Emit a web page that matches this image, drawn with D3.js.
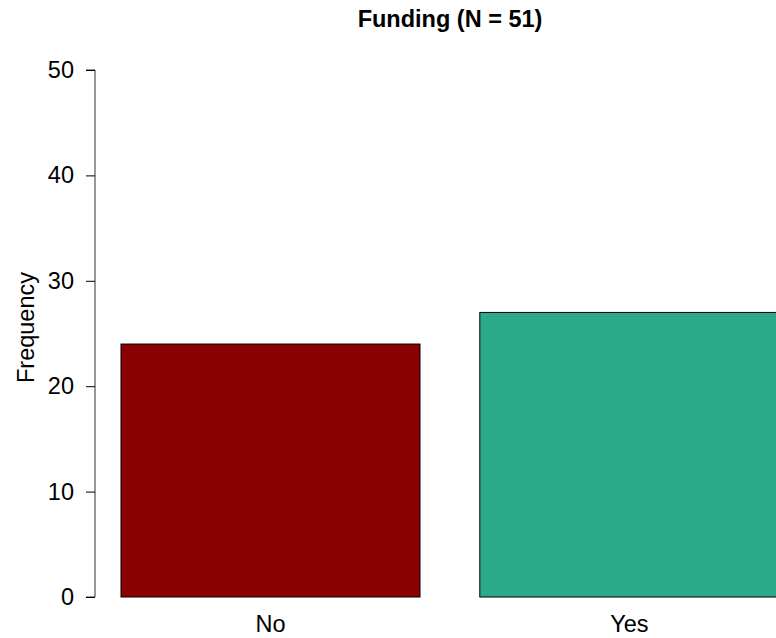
<!DOCTYPE html>
<html>
<head>
<meta charset="utf-8">
<script src="https://cdn.jsdelivr.net/npm/d3@7"></script>
<style>
  html, body { margin: 0; padding: 0; background: #fff; }
  svg { display: block; font-family: "Liberation Sans", Arial, sans-serif; }
</style>
</head>
<body>
<svg id="chart" width="776" height="638"></svg>
<script>
// Funding responses
const categories = ["No", "Yes"];
const counts = [24, 27];
const barColors = ["#8B0000", "#2AAA8A"];
const yTicks = [0, 10, 20, 30, 40, 50];
const title = "Funding (N = 51)";

const svg = d3.select("#chart");

// barplot-style layout: bar width 1, space 0.2 between bars
const barWidth = 1, space = 0.2;
const x = d3.scaleLinear().domain([0, 1]).range([61.2, 360.2]);
const y = d3.scaleLinear().domain([0, 50]).range([597, 70]);

const bars = categories.map((c, i) => {
  const left = space + i * (barWidth + space);
  return { cat: c, value: counts[i], color: barColors[i], left, right: left + barWidth };
});

svg.selectAll("rect.bar")
  .data(bars)
  .join("rect")
  .attr("class", "bar")
  .attr("x", d => x(d.left))
  .attr("width", d => x(d.right) - x(d.left))
  .attr("y", d => y(d.value))
  .attr("height", d => y(0) - y(d.value))
  .attr("fill", d => d.color)
  .attr("stroke", "#000")
  .attr("stroke-width", 1);

// category labels
svg.selectAll("text.xlab")
  .data(bars)
  .join("text")
  .attr("class", "xlab")
  .attr("x", d => x((d.left + d.right) / 2))
  .attr("y", 632)
  .attr("text-anchor", "middle")
  .attr("font-size", 23.5)
  .attr("fill", "#000")
  .text(d => d.cat);

// y axis
const yAxis = d3.axisLeft(y).tickValues(yTicks).tickSize(9).tickPadding(12).tickFormat(d3.format("d"));
const gy = svg.append("g").attr("transform", "translate(95,0)").call(yAxis);
gy.select(".domain").attr("stroke", "#333").attr("d", `M-9,${y(50)}H0V${y(0)}H-9`);
gy.selectAll(".tick line").attr("stroke", "#000");
gy.selectAll(".tick text")
  .attr("font-size", 23.5)
  .attr("font-family", "'Liberation Sans', Arial, sans-serif")
  .attr("fill", "#000");

// axis title
svg.append("text")
  .attr("transform", "translate(33.5,327.5) rotate(-90)")
  .attr("text-anchor", "middle")
  .attr("font-size", 23.5)
  .attr("fill", "#000")
  .text("Frequency");

// chart title
svg.append("text")
  .attr("x", 450)
  .attr("y", 27)
  .attr("text-anchor", "middle")
  .attr("font-size", 23.5)
  .attr("font-weight", "bold")
  .attr("fill", "#000")
  .text(title);
</script>
</body>
</html>
